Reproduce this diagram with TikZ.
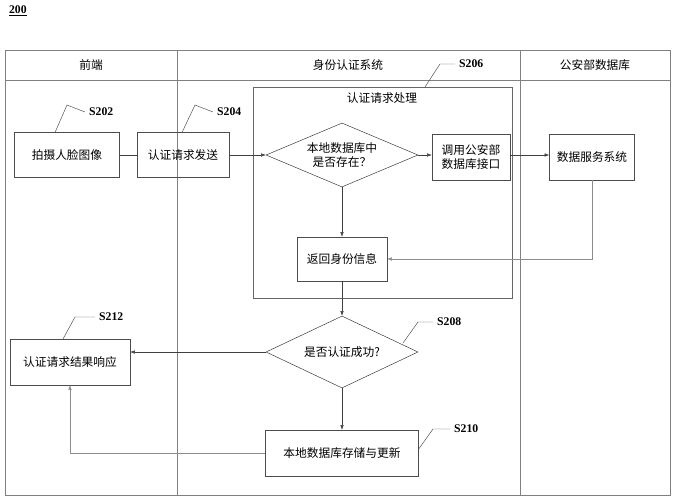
\documentclass[tikz,border=0pt]{standalone}
\usepackage{fontspec}
\setmainfont{Liberation Serif}
\newfontfamily\cjk{Noto Sans CJK SC}
\usetikzlibrary{shapes.geometric, arrows.meta}
\tikzset{
  box/.style={draw=black!70, rectangle, font=\cjk\normalsize, align=center, inner sep=2pt},
  dia/.style={draw=black!80, diamond, aspect=2.1, font=\cjk\normalsize, align=center, inner sep=0pt},
  flow/.style={draw=black!75, -{Latex[length=4pt,width=3pt]}},
  back/.style={draw=black!45, -{Latex[length=4pt,width=3pt]}},
  steplabel/.style={font=\normalsize\bfseries},
  lead/.style={draw=black!70}
}
\begin{document}
\begin{tikzpicture}[x=0.03cm, y=-0.03cm]
\useasboundingbox (0,0) rectangle (675,500);
% lanes
\draw[black!50] (5,50) rectangle (670,495);
\draw[black!50] (5,80) -- (670,80);
\draw[black!50] (177,50) -- (177,495);
\draw[black!50] (520,50) -- (520,495);
\node[font=\cjk\normalsize] (h1) at (91,65) {前端};
\node[font=\cjk\normalsize] (h2) at (348,65) {身份认证系统};
\node[font=\cjk\normalsize] (h3) at (595,65) {公安部数据库};
\node[font=\bfseries\normalsize, anchor=west] (fig) at (5,11) {\underline{200}};
% process frame
\node[draw=black!60, minimum width=259*0.03cm, minimum height=211*0.03cm] (frame) at (382.5,192.5) {};
\node[font=\cjk\normalsize] (ftitle) at (382,98) {认证请求处理};
% nodes
\node[box, minimum width=105*0.03cm, minimum height=45*0.03cm] (shoot) at (67,155) {拍摄人脸图像};
\node[box, minimum width=92*0.03cm, minimum height=45*0.03cm] (send) at (183,155) {认证请求发送};
\node[dia, minimum width=152*0.03cm, minimum height=64*0.03cm] (exist) at (342,155) {本地数据库中\\是否存在？};
\node[box, minimum width=78*0.03cm, minimum height=46*0.03cm] (call) at (471,157) {调用公安部\\数据库接口};
\node[box, minimum width=85*0.03cm, minimum height=46*0.03cm] (data) at (592,157) {数据服务系统};
\node[box, minimum width=90*0.03cm, minimum height=44*0.03cm] (ret) at (342,259) {返回身份信息};
\node[dia, minimum width=152*0.03cm, minimum height=72*0.03cm] (ok) at (342,352) {是否认证成功?};
\node[box, minimum width=120*0.03cm, minimum height=46*0.03cm] (resp) at (70,362) {认证请求结果响应};
\node[box, minimum width=153*0.03cm, minimum height=46*0.03cm] (store) at (342,453) {本地数据库存储与更新};
% step labels
\node[steplabel, anchor=west] (s202) at (85,112) {S202};
\node[steplabel, anchor=west] (s204) at (213,112) {S204};
\node[steplabel, anchor=west] (s206) at (455,64) {S206};
\node[steplabel, anchor=west] (s208) at (433,322) {S208};
\node[steplabel, anchor=west] (s210) at (450,429) {S210};
\node[steplabel, anchor=west] (s212) at (95,317) {S212};
\draw[lead] (55,132.5) -- (67,105) -- (s202.west);
\draw[lead] (182,132.5) -- (195,105) -- (s204.west);
\draw[lead] (425,87) -- (440,64) -- (s206.west);
\draw[lead] (403,343) -- (418,322) -- (s208.west);
\draw[lead] (418,450) -- (433,429) -- (s210.west);
\draw[lead] (63,339) -- (75,317) -- (s212.west);
% connectors
\draw[black!75] (shoot) -- (send);
\draw[flow] (send) -- (exist);
\draw[flow] (exist) -- (exist.east -| call.west);
\draw[flow] (exist.east -| call.east) -- (exist.east -| data.west);
\draw[back] (data.south) -- (data.south |- ret.east) -- (ret.east);
\draw[flow] (exist) -- (ret);
\draw[flow] (ret) -- (ok);
\draw[flow] (ok) -- (ok.west -| resp.east);
\draw[flow] (ok) -- (store);
\draw[back] (store.west) -- (store.west -| resp.south) -- (resp.south);
\end{tikzpicture}
\end{document}
